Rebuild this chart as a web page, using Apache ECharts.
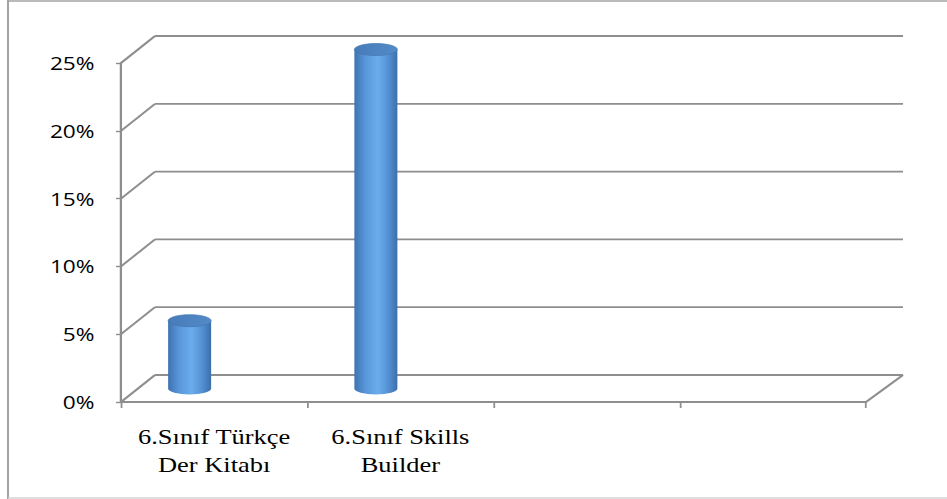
<!DOCTYPE html>
<html>
<head>
<meta charset="utf-8">
<script src="https://cdn.jsdelivr.net/npm/echarts@6/dist/echarts.min.js"></script>
<style>
  html, body { margin: 0; padding: 0; background: #fff; overflow: hidden; width: 947px; height: 499px; }
  #chart { width: 752px; height: 499px; transform: scaleX(1.2593); transform-origin: 0 0; }
</style>
</head>
<body>
<div id="chart"></div>
<script>
// ---- data ----
const categories = ['6.Sınıf Türkçe\nDer Kitabı', '6.Sınıf Skills\nBuilder', '', ''];
const values = [5, 25];
const yTicks = [0, 5, 10, 15, 20, 25];

// ---- style constants (unscaled frame) ----
const S = 1.2593;
const DX = 34 / S, DXR = 37 / S, DY = -27;
const LINE = '#8e8e8e';
const LW = 1.8;
const CYL_OFF_X = -24.5 / S, CYL_OFF_Y = -13.5;
const CYL_RX = 21.5 / S, CYL_RY = 6;

const chart = echarts.init(document.getElementById('chart'), null, { renderer: 'svg' });

const bodyGrad = new echarts.graphic.LinearGradient(0, 0, 1, 0, [
  { offset: 0, color: '#3e73b0' },
  { offset: 0.25, color: '#5896da' },
  { offset: 0.55, color: '#6badec' },
  { offset: 0.8, color: '#528fd2' },
  { offset: 1, color: '#3c6faa' }
]);
const topGrad = new echarts.graphic.LinearGradient(0, 0, 1, 0, [
  { offset: 0, color: '#477bb8' },
  { offset: 1, color: '#528bc9' }
]);

chart.setOption({
  animation: false,
  backgroundColor: '#fff',
  graphic: [
    { type: 'line', shape: { x1: 8 / S, y1: 0, x2: 8 / S, y2: 499 }, style: { stroke: '#a3a3a3', lineWidth: 1.6 } },
    { type: 'line', shape: { x1: 8 / S, y1: 1, x2: 752, y2: 1 }, style: { stroke: '#a3a3a3', lineWidth: 1.5 } },
    { type: 'line', shape: { x1: 8 / S, y1: 498, x2: 752, y2: 498 }, style: { stroke: '#d4d4d4', lineWidth: 1.5 } }
  ],
  grid: { left: 121 / S, right: 752 - 866 / S, top: 63, bottom: 97, containLabel: false },
  xAxis: {
    type: 'category',
    data: categories,
    boundaryGap: true,
    axisLine: { show: true, lineStyle: { color: LINE, width: LW } },
    axisTick: { show: true, length: 6, alignWithLabel: false, lineStyle: { color: LINE, width: 1.4 } },
    axisLabel: {
      interval: 0,
      margin: 21,
      color: '#000',
      fontFamily: "'Liberation Serif', 'Times New Roman', serif",
      fontWeight: 'normal',
      fontSize: 21,
      lineHeight: 28
    },
    splitLine: { show: false }
  },
  yAxis: {
    type: 'value',
    min: 0, max: 25, interval: 5,
    axisLine: { show: true, lineStyle: { color: LINE, width: LW } },
    axisTick: { show: true, length: 4, lineStyle: { color: LINE, width: 1.4 } },
    axisLabel: {
      formatter: '{value}%',
      margin: 21,
      color: '#000',
      fontFamily: "'Open Sans', sans-serif",
      fontSize: 18
    },
    splitLine: { show: false }
  },
  series: [
    {
      type: 'custom',
      z: 1,
      silent: true,
      clip: false,
      data: yTicks.map(v => [0, v]),
      renderItem: function (params, api) {
        const cs = params.coordSys;
        const v = api.value(1);
        const y = api.coord([0, v])[1];
        const L = cs.x, R = cs.x + cs.width;
        const st = { stroke: LINE, lineWidth: LW, fill: null };
        const children = [
          { type: 'line', shape: { x1: L, y1: y, x2: L + DX, y2: y + DY }, style: st },
          { type: 'line', shape: { x1: L + DX, y1: y + DY, x2: R + DXR, y2: y + DY }, style: st }
        ];
        if (v === 0) {
          children.push({ type: 'line', shape: { x1: R, y1: y, x2: R + DXR, y2: y + DY }, style: st });
        }
        return { type: 'group', children: children };
      }
    },
    {
      type: 'custom',
      z: 3,
      clip: false,
      data: values.map((v, i) => [i, v]),
      renderItem: function (params, api) {
        const i = api.value(0);
        const v = api.value(1);
        const b = api.coord([i, 0]);
        const t = api.coord([i, v]);
        const cx = b[0] + CYL_OFF_X;
        const yb = b[1] + CYL_OFF_Y;
        const yt = t[1] + CYL_OFF_Y;
        const l = cx - CYL_RX, r = cx + CYL_RX;
        const path = 'M' + l + ' ' + yt + ' L' + l + ' ' + yb +
          ' A' + CYL_RX + ' ' + CYL_RY + ' 0 0 0 ' + r + ' ' + yb +
          ' L' + r + ' ' + yt + ' Z';
        return {
          type: 'group',
          children: [
            { type: 'path', shape: { pathData: path }, style: { fill: bodyGrad } },
            { type: 'ellipse', shape: { cx: cx, cy: yt, rx: CYL_RX, ry: CYL_RY }, style: { fill: topGrad, stroke: '#4476b0', lineWidth: 0.6 } }
          ]
        };
      }
    }
  ]
});
</script>
</body>
</html>
